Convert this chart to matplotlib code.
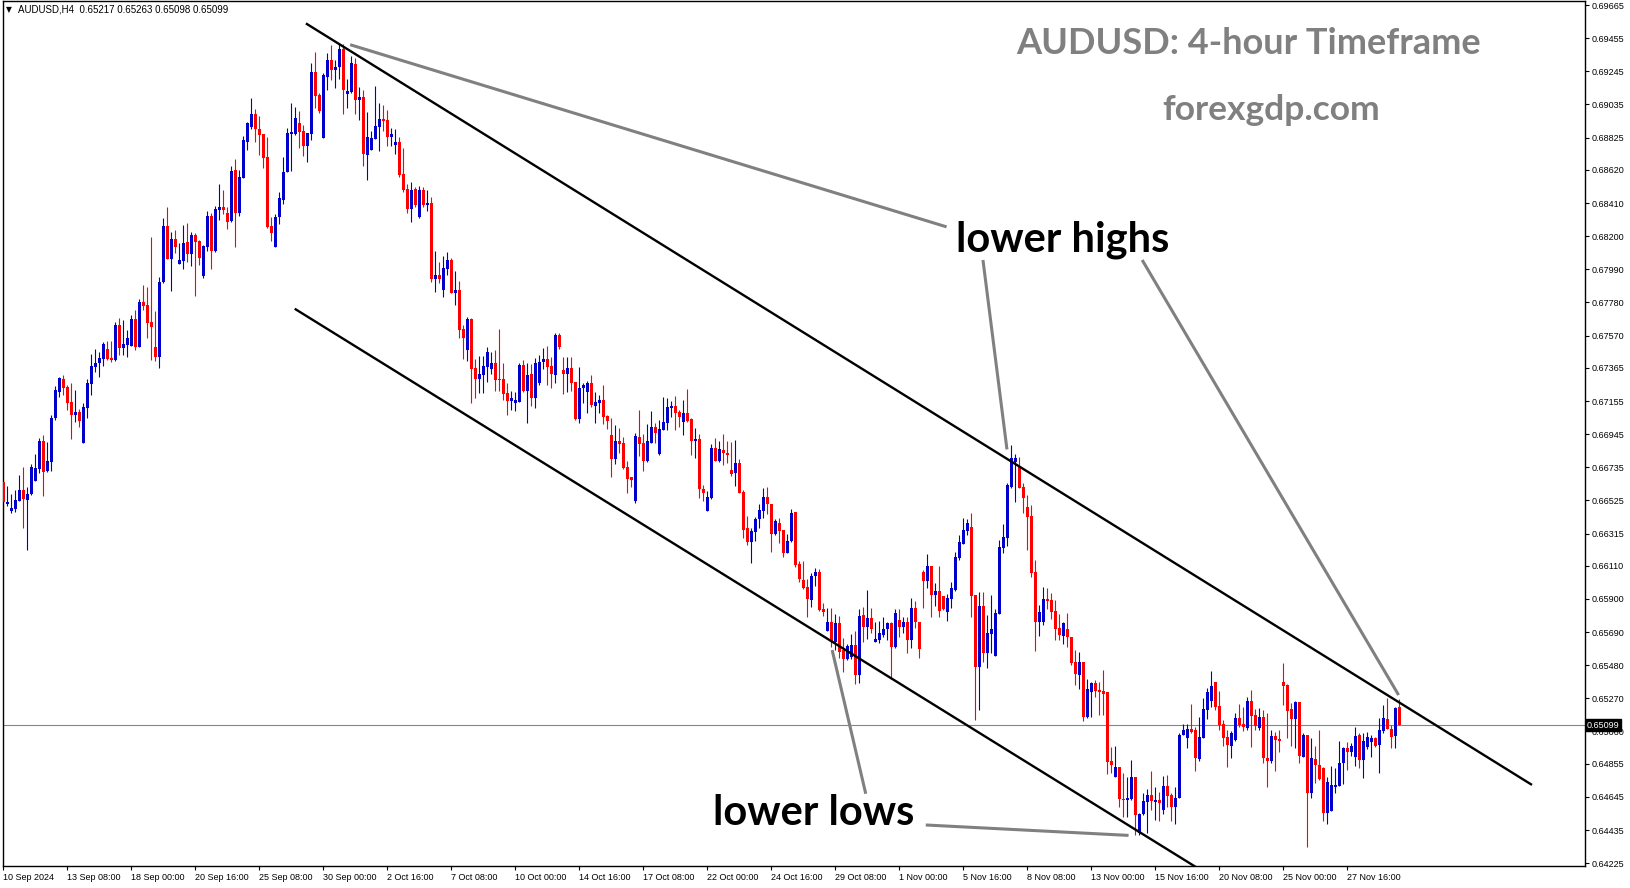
import matplotlib
matplotlib.use("Agg")
import matplotlib.pyplot as plt
import matplotlib.transforms as mtransforms
import numpy as np

# AUDUSD H4 candles (10 Sep 2024 16:00 .. 29 Nov 2024)
opens = [
    0.66644, 0.66502, 0.66460, 0.66473, 0.66523, 0.66591, 0.66528, 0.66566, 0.66650, 0.66726,
    0.66902, 0.66713, 0.66771, 0.67045, 0.67214, 0.67295, 0.67244, 0.67151, 0.67066, 0.67085,
    0.66891, 0.67111, 0.67263, 0.67373, 0.67398, 0.67421, 0.67485, 0.67430, 0.67415, 0.67639,
    0.67493, 0.67512, 0.67506, 0.67675, 0.67500, 0.67785, 0.67764, 0.67656, 0.67497, 0.67436,
    0.67912, 0.68264, 0.68057, 0.68182, 0.68024, 0.68045, 0.68163, 0.68087, 0.68207, 0.68169,
    0.67947, 0.68133, 0.68328, 0.68106, 0.68366, 0.68387, 0.68349, 0.68296, 0.68620, 0.68349,
    0.68571, 0.68799, 0.68890, 0.68975, 0.68879, 0.68848, 0.68702, 0.68265, 0.68134, 0.68320,
    0.68429, 0.68607, 0.68848, 0.68848, 0.68915, 0.68867, 0.68772, 0.68848, 0.69239, 0.69095,
    0.68825, 0.69211, 0.69317, 0.69253, 0.69271, 0.69387, 0.69103, 0.69112, 0.69291, 0.69063,
    0.69084, 0.68715, 0.68746, 0.68816, 0.68890, 0.68943, 0.68937, 0.68831, 0.68776, 0.68797,
    0.68594, 0.68499, 0.68374, 0.68501, 0.68323, 0.68492, 0.68397, 0.68412, 0.67928, 0.67953,
    0.67858, 0.67989, 0.68049, 0.67842, 0.67858, 0.67611, 0.67478, 0.67675, 0.67362, 0.67294,
    0.67320, 0.67372, 0.67358, 0.67394, 0.67292, 0.67292, 0.67203, 0.67155, 0.67144, 0.67151,
    0.67383, 0.67218, 0.67326, 0.67176, 0.67267, 0.67404, 0.67421, 0.67377, 0.67320, 0.67573,
    0.67351, 0.67326, 0.67362, 0.67273, 0.67041, 0.67235, 0.67214, 0.67267, 0.67125, 0.67144,
    0.67161, 0.67060, 0.66939, 0.66789, 0.66901, 0.66890, 0.66736, 0.66671, 0.66523, 0.66928,
    0.66890, 0.66776, 0.66890, 0.66992, 0.66819, 0.66971, 0.67017, 0.67112, 0.67123, 0.67087,
    0.67024, 0.67076, 0.67040, 0.66903, 0.66914, 0.66599, 0.66459, 0.66537, 0.66859, 0.66776,
    0.66844, 0.66827, 0.66717, 0.66696, 0.66759, 0.66580, 0.66347, 0.66263, 0.66326, 0.66404,
    0.66459, 0.66548, 0.66502, 0.66309, 0.66383, 0.66337, 0.66193, 0.66267, 0.66453, 0.66121,
    0.66020, 0.65978, 0.65893, 0.66047, 0.66073, 0.65836, 0.65697, 0.65756, 0.65629, 0.65749,
    0.65576, 0.65517, 0.65534, 0.65608, 0.65418, 0.65798, 0.65720, 0.65781, 0.65629, 0.65639,
    0.65671, 0.65709, 0.65749, 0.65593, 0.65766, 0.65720, 0.65756, 0.65639, 0.65844, 0.65756,
    0.66073, 0.66013, 0.66111, 0.65925, 0.65950, 0.65920, 0.65819, 0.65899, 0.65956, 0.66157,
    0.66248, 0.66330, 0.66358, 0.65925, 0.65470, 0.65855, 0.65555, 0.65678, 0.65540, 0.65804,
    0.66221, 0.66288, 0.66612, 0.66766, 0.66739, 0.66612, 0.66485, 0.66426, 0.66073, 0.65756,
    0.65756, 0.65899, 0.65893, 0.65823, 0.65718, 0.65665, 0.65709, 0.65661, 0.65498, 0.65418,
    0.65498, 0.65154, 0.65312, 0.65365, 0.65323, 0.65318, 0.65312, 0.64873, 0.64773, 0.64837,
    0.64634, 0.64625, 0.64630, 0.64773, 0.64414, 0.64534, 0.64615, 0.64657, 0.64615, 0.64625,
    0.64562, 0.64716, 0.64657, 0.64583, 0.64640, 0.65037, 0.65020, 0.65075, 0.65069, 0.64885,
    0.65016, 0.65196, 0.65253, 0.65375, 0.65221, 0.65107, 0.65022, 0.64967, 0.65005, 0.65147,
    0.65107, 0.65079, 0.65253, 0.65164, 0.65079, 0.65153, 0.64893, 0.64874, 0.65031, 0.65009,
    0.65375, 0.65354, 0.65200, 0.65138, 0.65248, 0.64900, 0.65037, 0.64667, 0.64883, 0.64847,
    0.64830, 0.64541, 0.64557, 0.64710, 0.64716, 0.64862, 0.64957, 0.64931, 0.64900, 0.65037,
    0.64879, 0.64963, 0.64995, 0.65020, 0.64974, 0.65064, 0.65136, 0.65073, 0.65033, 0.65217,
]
highs = [
    0.66661, 0.66616, 0.66566, 0.66591, 0.66686, 0.66739, 0.66612, 0.66756, 0.66819, 0.66923,
    0.66940, 0.66895, 0.67066, 0.67250, 0.67309, 0.67320, 0.67257, 0.67271, 0.67225, 0.67102,
    0.67145, 0.67292, 0.67453, 0.67487, 0.67466, 0.67529, 0.67536, 0.67536, 0.67656, 0.67683,
    0.67669, 0.67605, 0.67698, 0.67732, 0.67804, 0.67890, 0.67880, 0.68197, 0.67726, 0.67941,
    0.68315, 0.68387, 0.68228, 0.68239, 0.68155, 0.68271, 0.68286, 0.68228, 0.68218, 0.68176,
    0.68144, 0.68359, 0.68349, 0.68391, 0.68531, 0.68493, 0.68387, 0.68645, 0.68687, 0.68620,
    0.68835, 0.68926, 0.69076, 0.69006, 0.68962, 0.68848, 0.68829, 0.68320, 0.68341, 0.68480,
    0.68704, 0.68884, 0.69046, 0.69019, 0.68994, 0.68905, 0.68856, 0.69296, 0.69368, 0.69106,
    0.69232, 0.69361, 0.69412, 0.69317, 0.69423, 0.69418, 0.69194, 0.69342, 0.69330, 0.69144,
    0.69127, 0.68989, 0.68869, 0.69154, 0.69042, 0.69032, 0.69000, 0.68884, 0.68879, 0.68829,
    0.68761, 0.68530, 0.68543, 0.68513, 0.68518, 0.68509, 0.68492, 0.68450, 0.68106, 0.68036,
    0.68074, 0.68099, 0.68059, 0.67979, 0.67918, 0.67637, 0.67689, 0.67679, 0.67423, 0.67440,
    0.67440, 0.67499, 0.67468, 0.67478, 0.67611, 0.67394, 0.67267, 0.67218, 0.67214, 0.67394,
    0.67415, 0.67394, 0.67389, 0.67425, 0.67446, 0.67489, 0.67503, 0.67436, 0.67588, 0.67584,
    0.67436, 0.67436, 0.67436, 0.67273, 0.67372, 0.67267, 0.67282, 0.67320, 0.67214, 0.67193,
    0.67256, 0.67066, 0.67049, 0.67002, 0.66981, 0.66928, 0.66774, 0.66675, 0.66950, 0.67097,
    0.66945, 0.67009, 0.67091, 0.67017, 0.67034, 0.67182, 0.67174, 0.67157, 0.67188, 0.67097,
    0.67161, 0.67231, 0.67045, 0.66985, 0.66945, 0.66622, 0.66584, 0.66882, 0.66918, 0.66903,
    0.66945, 0.66901, 0.66897, 0.66907, 0.66787, 0.66590, 0.66426, 0.66347, 0.66421, 0.66502,
    0.66601, 0.66611, 0.66502, 0.66404, 0.66415, 0.66337, 0.66309, 0.66468, 0.66453, 0.66142,
    0.66142, 0.66024, 0.66062, 0.66098, 0.66089, 0.65872, 0.65840, 0.65840, 0.65804, 0.65792,
    0.65650, 0.65614, 0.65678, 0.65699, 0.65834, 0.65847, 0.65956, 0.65844, 0.65756, 0.65760,
    0.65787, 0.65756, 0.65756, 0.65834, 0.65836, 0.65783, 0.65787, 0.65908, 0.65887, 0.65756,
    0.66083, 0.66185, 0.66111, 0.66003, 0.66111, 0.65920, 0.65931, 0.66009, 0.66199, 0.66305,
    0.66411, 0.66404, 0.66442, 0.65925, 0.65946, 0.65946, 0.65798, 0.65925, 0.65834, 0.66273,
    0.66373, 0.66637, 0.66876, 0.66817, 0.66802, 0.66633, 0.66559, 0.66496, 0.66147, 0.65861,
    0.65973, 0.65967, 0.65940, 0.65893, 0.65804, 0.65756, 0.65813, 0.65661, 0.65576, 0.65566,
    0.65498, 0.65392, 0.65375, 0.65386, 0.65375, 0.65449, 0.65312, 0.64963, 0.64968, 0.64837,
    0.64794, 0.64773, 0.64879, 0.64773, 0.64541, 0.64668, 0.64693, 0.64811, 0.64710, 0.64678,
    0.64777, 0.64782, 0.64668, 0.64706, 0.65048, 0.65107, 0.65105, 0.65234, 0.65090, 0.65154,
    0.65274, 0.65337, 0.65443, 0.65375, 0.65316, 0.65132, 0.65069, 0.65064, 0.65179, 0.65234,
    0.65217, 0.65280, 0.65322, 0.65200, 0.65206, 0.65196, 0.65179, 0.65069, 0.65058, 0.65069,
    0.65496, 0.65358, 0.65238, 0.65255, 0.65248, 0.65048, 0.65037, 0.65016, 0.64967, 0.65069,
    0.64836, 0.64773, 0.64841, 0.64830, 0.64999, 0.64963, 0.64995, 0.64988, 0.65090, 0.65048,
    0.65048, 0.65058, 0.65037, 0.65026, 0.65143, 0.65227, 0.65269, 0.65100, 0.65217, 0.65263,
]
lows = [
    0.66401, 0.66489, 0.66443, 0.66454, 0.66523, 0.66352, 0.66211, 0.66559, 0.66650, 0.66701,
    0.66553, 0.66705, 0.66713, 0.67035, 0.67183, 0.67193, 0.67098, 0.66914, 0.67024, 0.66992,
    0.66891, 0.67049, 0.67193, 0.67339, 0.67309, 0.67379, 0.67415, 0.67402, 0.67409, 0.67447,
    0.67447, 0.67436, 0.67506, 0.67478, 0.67500, 0.67732, 0.67552, 0.67415, 0.67409, 0.67366,
    0.67905, 0.68057, 0.67854, 0.68095, 0.68024, 0.67994, 0.68036, 0.68011, 0.67823, 0.68017,
    0.67937, 0.68104, 0.67992, 0.68102, 0.68303, 0.68341, 0.68246, 0.68288, 0.68134, 0.68330,
    0.68571, 0.68746, 0.68877, 0.68799, 0.68715, 0.68634, 0.68254, 0.68172, 0.68134, 0.68277,
    0.68404, 0.68607, 0.68615, 0.68841, 0.68761, 0.68708, 0.68672, 0.68810, 0.69010, 0.68983,
    0.68825, 0.69127, 0.69190, 0.69142, 0.69194, 0.68975, 0.69015, 0.69106, 0.68975, 0.68937,
    0.68645, 0.68556, 0.68746, 0.68816, 0.68742, 0.68867, 0.68772, 0.68772, 0.68721, 0.68577,
    0.68482, 0.68344, 0.68292, 0.68387, 0.68317, 0.68387, 0.68361, 0.67911, 0.67848, 0.67905,
    0.67816, 0.67953, 0.67842, 0.67763, 0.67556, 0.67423, 0.67408, 0.67144, 0.67176, 0.67203,
    0.67203, 0.67273, 0.67326, 0.67220, 0.67220, 0.67161, 0.67066, 0.67098, 0.67094, 0.67146,
    0.67214, 0.67013, 0.67123, 0.67108, 0.67256, 0.67356, 0.67256, 0.67239, 0.67267, 0.67484,
    0.67197, 0.67214, 0.67220, 0.67034, 0.67013, 0.67140, 0.67077, 0.67115, 0.67013, 0.67077,
    0.67009, 0.66975, 0.66675, 0.66755, 0.66823, 0.66723, 0.66573, 0.66611, 0.66506, 0.66806,
    0.66713, 0.66768, 0.66890, 0.66886, 0.66812, 0.66971, 0.66971, 0.67055, 0.66971, 0.66988,
    0.66939, 0.67024, 0.66812, 0.66791, 0.66542, 0.66523, 0.66459, 0.66533, 0.66776, 0.66770,
    0.66749, 0.66759, 0.66679, 0.66616, 0.66573, 0.66284, 0.66242, 0.66130, 0.66269, 0.66352,
    0.66411, 0.66438, 0.66199, 0.66305, 0.66252, 0.66168, 0.66189, 0.66259, 0.66104, 0.66005,
    0.65963, 0.65787, 0.65851, 0.65984, 0.65825, 0.65792, 0.65697, 0.65597, 0.65576, 0.65523,
    0.65439, 0.65513, 0.65517, 0.65361, 0.65369, 0.65629, 0.65646, 0.65686, 0.65625, 0.65623,
    0.65661, 0.65639, 0.65390, 0.65587, 0.65661, 0.65682, 0.65555, 0.65587, 0.65713, 0.65527,
    0.65840, 0.65971, 0.65787, 0.65855, 0.65787, 0.65830, 0.65762, 0.65840, 0.65952, 0.66147,
    0.66246, 0.66305, 0.65787, 0.65132, 0.65196, 0.65502, 0.65464, 0.65555, 0.65540, 0.65804,
    0.66189, 0.66235, 0.66601, 0.66517, 0.66601, 0.66443, 0.66210, 0.66041, 0.65572, 0.65665,
    0.65735, 0.65836, 0.65771, 0.65640, 0.65640, 0.65614, 0.65597, 0.65481, 0.65354, 0.65329,
    0.65128, 0.65143, 0.65154, 0.65280, 0.65164, 0.65164, 0.64790, 0.64799, 0.64773, 0.64583,
    0.64520, 0.64520, 0.64625, 0.64403, 0.64403, 0.64530, 0.64418, 0.64562, 0.64499, 0.64494,
    0.64537, 0.64583, 0.64494, 0.64471, 0.64640, 0.65037, 0.64953, 0.65048, 0.64811, 0.64875,
    0.65016, 0.65137, 0.65212, 0.65196, 0.65069, 0.64967, 0.64836, 0.64893, 0.65001, 0.65090,
    0.65062, 0.65069, 0.64963, 0.65069, 0.65069, 0.64862, 0.64705, 0.64862, 0.64811, 0.64931,
    0.65227, 0.65016, 0.64967, 0.64957, 0.64862, 0.64895, 0.64329, 0.64636, 0.64731, 0.64752,
    0.64494, 0.64471, 0.64557, 0.64667, 0.64716, 0.64724, 0.64815, 0.64904, 0.64841, 0.64826,
    0.64762, 0.64946, 0.64895, 0.64963, 0.64798, 0.65048, 0.65073, 0.64953, 0.64953, 0.65098,
]
closes = [
    0.66517, 0.66515, 0.66477, 0.66528, 0.66591, 0.66536, 0.66566, 0.66739, 0.66730, 0.66904,
    0.66707, 0.66775, 0.67049, 0.67225, 0.67301, 0.67240, 0.67145, 0.67066, 0.67085, 0.67030,
    0.67115, 0.67271, 0.67377, 0.67398, 0.67430, 0.67519, 0.67421, 0.67415, 0.67639, 0.67493,
    0.67516, 0.67557, 0.67677, 0.67500, 0.67785, 0.67759, 0.67652, 0.67626, 0.67434, 0.67909,
    0.68264, 0.68057, 0.68182, 0.68133, 0.68049, 0.68159, 0.68087, 0.68207, 0.68165, 0.68062,
    0.68138, 0.68328, 0.68108, 0.68372, 0.68387, 0.68366, 0.68292, 0.68615, 0.68349, 0.68577,
    0.68810, 0.68920, 0.68975, 0.68877, 0.68841, 0.68698, 0.68260, 0.68222, 0.68320, 0.68440,
    0.68607, 0.68856, 0.68863, 0.68949, 0.68863, 0.68772, 0.68852, 0.69239, 0.69089, 0.68994,
    0.69222, 0.69317, 0.69253, 0.69275, 0.69387, 0.69127, 0.69120, 0.69296, 0.69063, 0.69084,
    0.68721, 0.68831, 0.68825, 0.68899, 0.68943, 0.68930, 0.68831, 0.68848, 0.68797, 0.68588,
    0.68493, 0.68372, 0.68492, 0.68397, 0.68492, 0.68397, 0.68410, 0.67928, 0.67953, 0.67928,
    0.67998, 0.68049, 0.67842, 0.67858, 0.67605, 0.67556, 0.67675, 0.67358, 0.67294, 0.67326,
    0.67377, 0.67465, 0.67394, 0.67288, 0.67286, 0.67199, 0.67155, 0.67172, 0.67161, 0.67383,
    0.67218, 0.67320, 0.67176, 0.67394, 0.67404, 0.67421, 0.67372, 0.67324, 0.67573, 0.67499,
    0.67326, 0.67362, 0.67267, 0.67041, 0.67235, 0.67256, 0.67267, 0.67129, 0.67151, 0.67161,
    0.67056, 0.67030, 0.66789, 0.66901, 0.66882, 0.66728, 0.66662, 0.66654, 0.66935, 0.66882,
    0.66776, 0.66901, 0.66992, 0.66954, 0.66977, 0.67024, 0.67119, 0.67123, 0.67076, 0.67055,
    0.67076, 0.67028, 0.66903, 0.66914, 0.66595, 0.66573, 0.66548, 0.66859, 0.66776, 0.66850,
    0.66823, 0.66812, 0.66692, 0.66759, 0.66573, 0.66337, 0.66263, 0.66330, 0.66407, 0.66464,
    0.66548, 0.66500, 0.66309, 0.66396, 0.66333, 0.66193, 0.66267, 0.66447, 0.66115, 0.66024,
    0.65967, 0.65897, 0.66047, 0.66073, 0.65830, 0.65817, 0.65756, 0.65629, 0.65749, 0.65566,
    0.65517, 0.65601, 0.65608, 0.65418, 0.65792, 0.65720, 0.65781, 0.65709, 0.65646, 0.65686,
    0.65709, 0.65749, 0.65597, 0.65809, 0.65720, 0.65756, 0.65639, 0.65844, 0.65756, 0.65582,
    0.66013, 0.66111, 0.65925, 0.65950, 0.65825, 0.65836, 0.65908, 0.65967, 0.66168, 0.66263,
    0.66337, 0.66383, 0.65920, 0.65470, 0.65855, 0.65559, 0.65686, 0.65709, 0.65813, 0.66231,
    0.66294, 0.66622, 0.66792, 0.66796, 0.66601, 0.66538, 0.66422, 0.66066, 0.65756, 0.65817,
    0.65899, 0.65889, 0.65819, 0.65707, 0.65671, 0.65745, 0.65661, 0.65492, 0.65422, 0.65498,
    0.65154, 0.65329, 0.65365, 0.65316, 0.65308, 0.65297, 0.64868, 0.64847, 0.64837, 0.64630,
    0.64625, 0.64640, 0.64773, 0.64530, 0.64537, 0.64619, 0.64657, 0.64619, 0.64625, 0.64604,
    0.64716, 0.64653, 0.64583, 0.64640, 0.65037, 0.65069, 0.65075, 0.65059, 0.64889, 0.65027,
    0.65202, 0.65308, 0.65348, 0.65217, 0.65100, 0.65016, 0.64972, 0.65048, 0.65147, 0.65100,
    0.65086, 0.65255, 0.65160, 0.65094, 0.65153, 0.64889, 0.64874, 0.65031, 0.65005, 0.65001,
    0.65348, 0.65191, 0.65138, 0.65248, 0.64904, 0.65037, 0.64667, 0.64889, 0.64847, 0.64756,
    0.64541, 0.64741, 0.64720, 0.64720, 0.64862, 0.64957, 0.64931, 0.64967, 0.65031, 0.64879,
    0.65001, 0.65026, 0.65020, 0.64967, 0.65069, 0.65143, 0.65073, 0.65026, 0.65206, 0.65099,
]

date_labels = [
    "10 Sep 2024", "13 Sep 08:00", "18 Sep 00:00", "20 Sep 16:00", "25 Sep 08:00",
    "30 Sep 00:00", "2 Oct 16:00", "7 Oct 08:00", "10 Oct 00:00", "14 Oct 16:00",
    "17 Oct 08:00", "22 Oct 00:00", "24 Oct 16:00", "29 Oct 08:00", "1 Nov 00:00",
    "5 Nov 16:00", "8 Nov 08:00", "13 Nov 00:00", "15 Nov 16:00", "20 Nov 08:00",
    "25 Nov 00:00", "27 Nov 16:00",
]
bars_per_label = 16

price_ticks = [
    0.69665, 0.69455, 0.69245, 0.69035, 0.68825, 0.68620, 0.68410, 0.68200, 0.67990,
    0.67780, 0.67570, 0.67365, 0.67155, 0.66945, 0.66735, 0.66525, 0.66315, 0.66110,
    0.65900, 0.65690, 0.65480, 0.65270, 0.65060, 0.64855, 0.64645, 0.64435, 0.64225,
]
last_price = 0.65099

BULL = "#0000CD"
BEAR = "#FF0000"
GREY = "#808080"
AXFONT = "Liberation Sans"
AXSIZE = 6.5

o = np.array(opens)
h = np.array(highs)
l = np.array(lows)
c = np.array(closes)
x = np.arange(len(c))
cols = np.where(c >= o, BULL, BEAR)

W, H = 1631, 888
fig = plt.figure(figsize=(W / 100, H / 100), dpi=100)
fig.patch.set_facecolor("white")
ax = fig.add_axes([3 / W, 22 / H, 1582 / W, 865 / H])
ax.set_xlim(-0.075, 395.4)
ax.set_ylim(0.64207, 0.69691)

# candles
ax.vlines(x, l, h, colors=cols, linewidth=0.8, zorder=2)
body = np.maximum(np.abs(c - o), 0.00004)
ax.bar(x, body, bottom=np.minimum(o, c), width=0.75, color=cols, linewidth=0, zorder=3)

# last price line
ax.axhline(last_price, color="#778899", linewidth=0.8, zorder=1)

# channel
ax.plot([75.9, 381.9], [0.69545, 0.64725], color="black", linewidth=1.7, zorder=4)
ax.plot([73.1, 304.2], [0.67736, 0.64105], color="black", linewidth=1.7, zorder=4)

# pointer lines
pointers = [
    ([86.7, 235.8], [0.69414, 0.68259]),
    ([244.9, 250.9], [0.68049, 0.66848]),
    ([284.7, 348.8], [0.68049, 0.65291]),
    ([207.2, 215.6], [0.65576, 0.64665]),
    ([230.6, 281.3], [0.64467, 0.64401]),
]
for px, py in pointers:
    ax.plot(px, py, color=GREY, linewidth=2.2, solid_capstyle="butt", zorder=4)

ax.text(264.9, 0.68101, "lower highs", family="Lato", weight="bold", fontsize=30,
        color="black", ha="center", va="baseline", zorder=5)
ax.text(202.5, 0.64467, "lower lows", family="Lato", weight="bold", fontsize=30,
        color="black", ha="center", va="baseline", zorder=5)
ax.text(311.2, 0.69355, "AUDUSD: 4-hour Timeframe", family="Lato", weight="bold",
        fontsize=26, color=GREY, ha="center", va="baseline", zorder=5)
ax.text(316.9, 0.68939, "forexgdp.com", family="Lato", weight="bold",
        fontsize=25.5, color=GREY, ha="center", va="baseline", zorder=5)

# header
fig.text(6 / W, 1 - 10 / H, "\u25bc", fontsize=5.5, family="DejaVu Sans", va="center", ha="left")
fig.text(18 / W, 1 - 10 / H, "AUDUSD,H4  0.65217 0.65263 0.65098 0.65099",
         fontsize=7, family=AXFONT, va="center", ha="left")

# axes
for s in ax.spines.values():
    s.set_color("black")
    s.set_linewidth(1.0)

ax.yaxis.tick_right()
ax.set_yticks(price_ticks)
ax.set_yticklabels([f"{v:.5f}" for v in price_ticks], family=AXFONT, fontsize=AXSIZE)
ax.tick_params(axis="y", direction="out", length=3, width=0.8, pad=2, colors="black")

ax.set_xticks(np.arange(len(date_labels)) * bars_per_label)
ax.set_xticklabels(date_labels, family=AXFONT, fontsize=AXSIZE, ha="left")
ax.tick_params(axis="x", direction="out", length=3, width=0.8, pad=2, colors="black")

# current price box on the price scale
trans = mtransforms.blended_transform_factory(ax.transAxes, ax.transData)
ax.text(1.0012, last_price, f"{last_price:.5f}", transform=trans, fontsize=AXSIZE,
        family=AXFONT, color="white", ha="left", va="center", clip_on=False, zorder=6,
        bbox=dict(boxstyle="square,pad=0.15", facecolor="black", edgecolor="black"))

fig.savefig("out.png", dpi=100, facecolor="white")
